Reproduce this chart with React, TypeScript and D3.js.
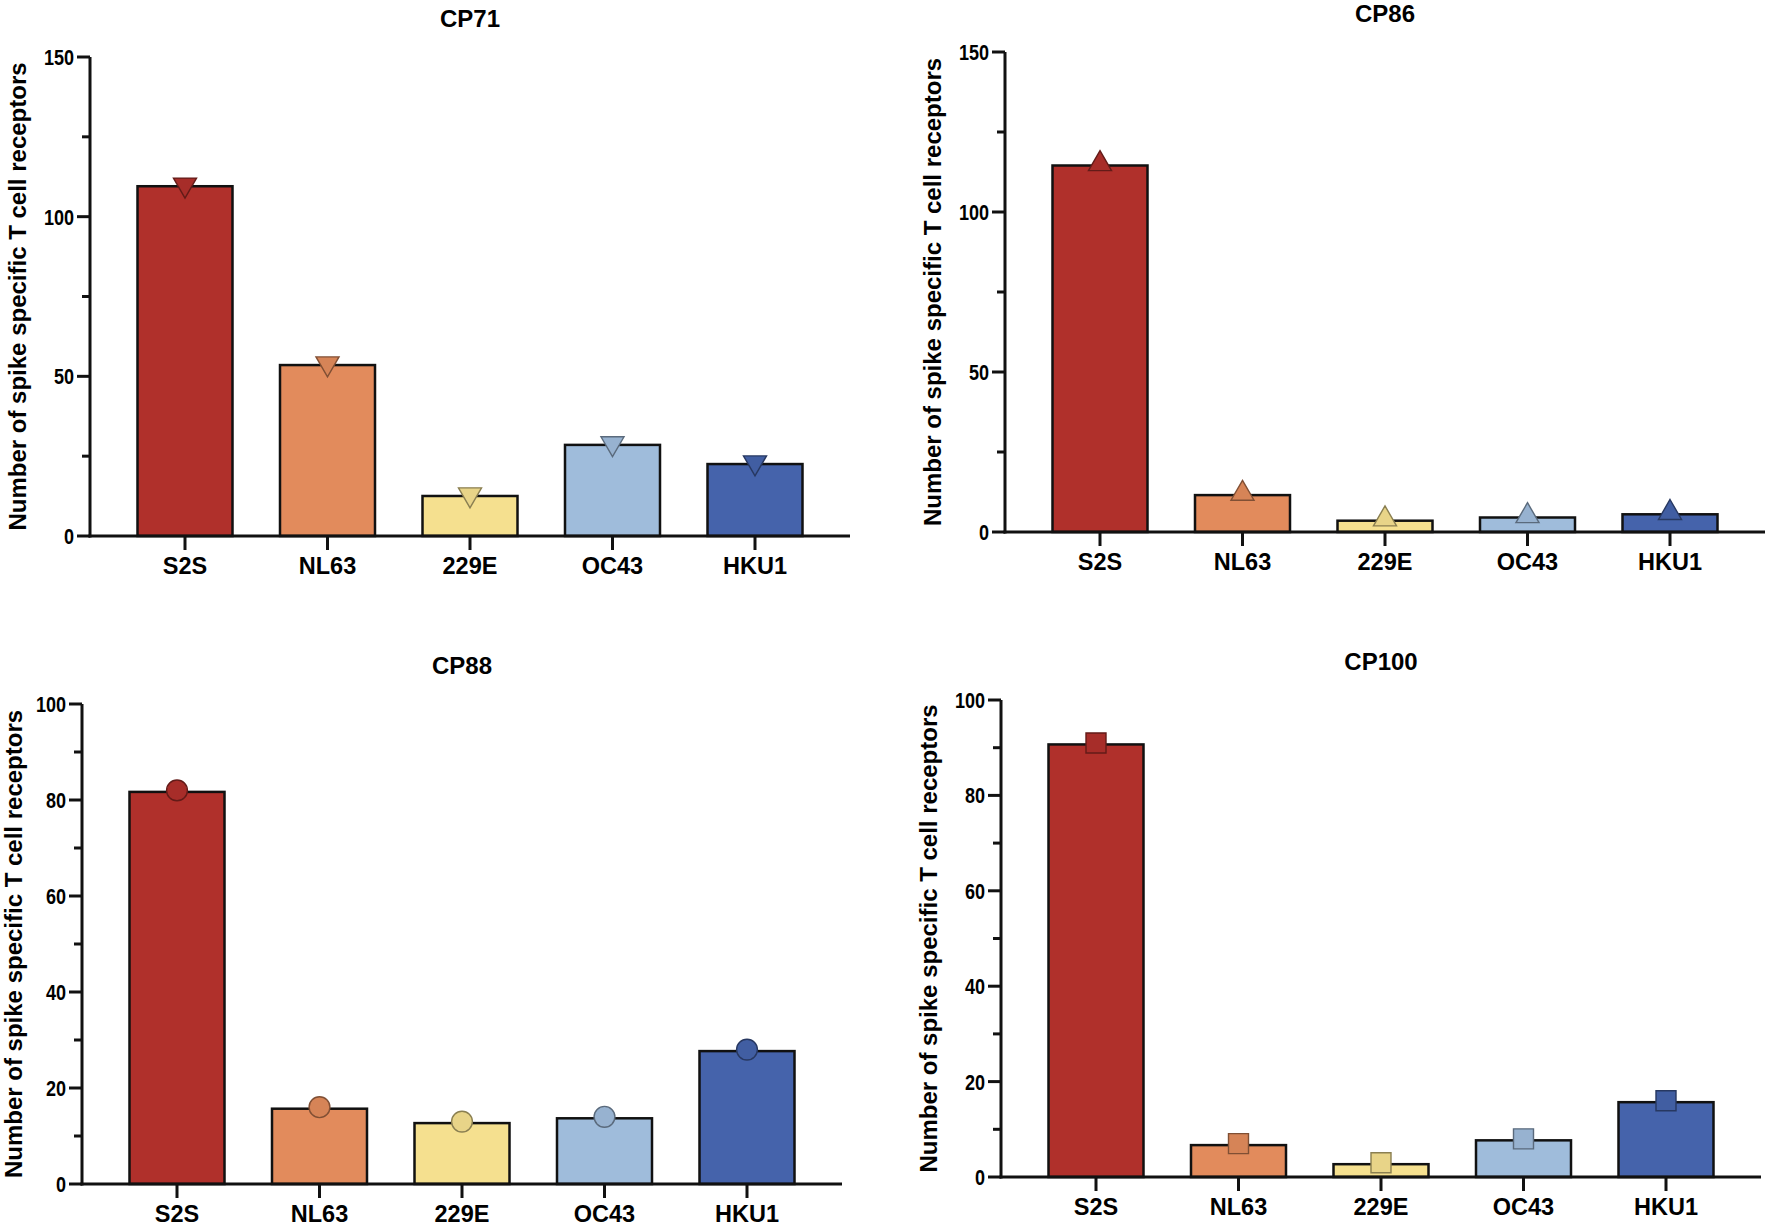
import * as d3 from "d3";

// categories and values
const CATEGORIES = ["S2S", "NL63", "229E", "OC43", "HKU1"];
const COLORS = ["#b0302b", "#e28b5c", "#f5e08f", "#9fbcdb", "#4563ab"];
const CP71 = [110, 54, 13, 29, 23];
const CP86 = [115, 12, 4, 5, 6];
const CP88 = [82, 16, 13, 14, 28];
const CP100 = [91, 7, 3, 8, 16];

const Y_TITLE = "Number of spike specific T cell receptors";
const LABEL_FONT = "'Liberation Sans', Arial, Helvetica, sans-serif";

type Marker = "triangleDown" | "triangleUp" | "circle" | "square";

const panels = [
    { title: "CP71", values: CP71, marker: "triangleDown" as Marker, left: 90, top: 57, bottom: 536, yMax: 150, major: 50, minor: 25 },
    { title: "CP86", values: CP86, marker: "triangleUp" as Marker, left: 1005, top: 52, bottom: 532, yMax: 150, major: 50, minor: 25 },
    { title: "CP88", values: CP88, marker: "circle" as Marker, left: 82, top: 704, bottom: 1184, yMax: 100, major: 20, minor: 10 },
    { title: "CP100", values: CP100, marker: "square" as Marker, left: 1001, top: 700, bottom: 1177, yMax: 100, major: 20, minor: 10 },
];

const PLOT_WIDTH = 760;

const markerPath = (type: Marker) => {
    const symbolType = {
        triangleDown: d3.symbolTriangle,
        triangleUp: d3.symbolTriangle,
        circle: d3.symbolCircle,
        square: d3.symbolSquare,
    }[type];
    const size = type === "circle" ? 340 : type === "square" ? 400 : 230;
    return d3.symbol(symbolType, size)() as string;
};

const Panel = ({ p }: { p: (typeof panels)[number] }) => {
    const xScale = d3
        .scaleBand<string>()
        .domain(CATEGORIES)
        .range([p.left, p.left + PLOT_WIDTH])
        .paddingInner(1 / 3)
        .paddingOuter(1 / 3);
    const yScale = d3.scaleLinear().domain([0, p.yMax]).range([p.bottom, p.top]);
    const colorScale = d3.scaleOrdinal<string>().domain(CATEGORIES).range(COLORS);

    const minorTicks = d3.range(0, p.yMax + 0.001, p.minor);
    const majorTicks = d3.range(0, p.yMax + 0.001, p.major);
    const sw = 2.5;
    const path = markerPath(p.marker);
    const rotate = p.marker === "triangleDown" ? 180 : 0;

    //
    // bars + markers
    //
    const bars = CATEGORIES.map((cat, i) => {
        const v = p.values[i];
        const x = xScale(cat) as number;
        const yTop = yScale(v) + 1.5;
        const c = colorScale(cat);
        const cx = x + xScale.bandwidth() / 2;
        const markerFill = d3.color(c)!.darker(0.15).formatHex();
        const markerStroke = d3.color(c)!.darker(1.6).formatHex();
        return (
            <g key={cat}>
                <rect
                    x={x}
                    y={yTop}
                    width={xScale.bandwidth()}
                    height={p.bottom - yTop}
                    fill={c}
                    stroke="#111"
                    strokeWidth={sw}
                />
                <path
                    d={path}
                    transform={`translate(${cx},${yScale(v)}) rotate(${rotate})`}
                    fill={markerFill}
                    stroke={markerStroke}
                    strokeWidth={1.4}
                />
            </g>
        );
    });

    const titleX = Math.max(p.left - 64, 22);

    return (
        <g>
            <text
                x={p.left + PLOT_WIDTH / 2}
                y={p.top - 30}
                textAnchor="middle"
                fontFamily={LABEL_FONT}
                fontWeight="bold"
                fontSize={24}
            >
                {p.title}
            </text>
            <text
                transform={`translate(${titleX},${(p.top + p.bottom) / 2}) rotate(-90)`}
                textAnchor="middle"
                fontFamily={LABEL_FONT}
                fontWeight="bold"
                fontSize={24}
            >
                {Y_TITLE}
            </text>
            {bars}
            {/* y axis */}
            <line x1={p.left} x2={p.left} y1={p.top} y2={p.bottom + 1.5} stroke="#111" strokeWidth={3} />
            {minorTicks.map((t) => {
                const isMajor = t % p.major === 0;
                return (
                    <line
                        key={t}
                        x1={p.left - (isMajor ? 13 : 8)}
                        x2={p.left}
                        y1={yScale(t)}
                        y2={yScale(t)}
                        stroke="#111"
                        strokeWidth={3}
                    />
                );
            })}
            {majorTicks.map((t) => (
                <text
                    key={t}
                    transform={`translate(${p.left - 16},${yScale(t)}) scale(0.82,1)`}
                    dy="0.36em"
                    textAnchor="end"
                    fontFamily={LABEL_FONT}
                    fontWeight="bold"
                    fontSize={22}
                >
                    {t}
                </text>
            ))}
            {/* x axis */}
            <line x1={p.left - 1.5} x2={p.left + PLOT_WIDTH} y1={p.bottom} y2={p.bottom} stroke="#111" strokeWidth={3} />
            {CATEGORIES.map((cat) => {
                const cx = (xScale(cat) as number) + xScale.bandwidth() / 2;
                return (
                    <g key={cat}>
                        <line x1={cx} x2={cx} y1={p.bottom} y2={p.bottom + 14} stroke="#111" strokeWidth={3} />
                        <text
                            x={cx}
                            y={p.bottom + 38}
                            textAnchor="middle"
                            fontFamily={LABEL_FONT}
                            fontWeight="bold"
                            fontSize={23.5}
                        >
                            {cat}
                        </text>
                    </g>
                );
            })}
        </g>
    );
};

export default function App() {
    return (
        <svg
            width={1772}
            height={1226}
            style={{ position: "absolute", left: 0, top: 0, background: "#fff" }}
        >
            {panels.map((p) => (
                <Panel key={p.title} p={p} />
            ))}
        </svg>
    );
}
